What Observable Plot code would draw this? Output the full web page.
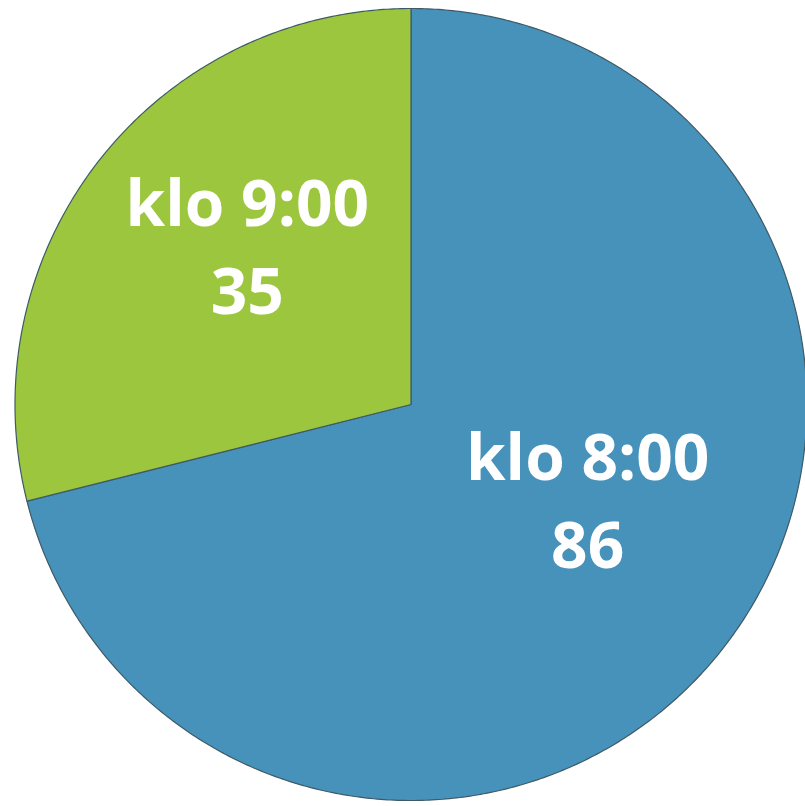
<!DOCTYPE html>
<html>
<head>
<meta charset="utf-8">
<script src="https://cdn.jsdelivr.net/npm/d3@7"></script>
<script src="https://cdn.jsdelivr.net/npm/@observablehq/plot@0.6"></script>
<style>
  html, body { margin: 0; padding: 0; background: #ffffff; }
  #chart svg { display: block; }
</style>
</head>
<body>
<div id="chart"></div>
<script>
// Data
const categories = ["klo 8:00", "klo 9:00"];
const values = [86, 35];
const colors = ["#4692bb", "#9dc63f"];

const W = 805, H = 806;
const cx = 410.5, cy = 404, R = 396;

// Pie layout (clockwise from top, in data order)
const pie = d3.pie().sort(null).value(d => d.value);
const arcs = pie(categories.map((c, i) => ({category: c, value: values[i], color: colors[i]})));

// Slice outlines as polygons in unit-circle coordinates (y up)
const slicePts = [];
arcs.forEach(a => {
  const cat = a.data.category;
  slicePts.push({cat, x: 0, y: 0});
  const steps = Math.max(2, Math.ceil((a.endAngle - a.startAngle) / (Math.PI / 360)));
  for (let k = 0; k <= steps; k++) {
    const t = a.startAngle + (a.endAngle - a.startAngle) * k / steps;
    slicePts.push({cat, x: Math.sin(t), y: Math.cos(t)});
  }
  slicePts.push({cat, x: 0, y: 0});
});

// Labels at slice centroids (with small best-fit nudges in pixels)
const labelR = 0.54;
const nudges = [[8, -40], [5, -31]];
const labels = arcs.map((a, i) => {
  const m = (a.startAngle + a.endAngle) / 2;
  return {x: labelR * Math.sin(m), y: labelR * Math.cos(m), text: a.data.category + "\n" + a.data.value, i};
});

const chart = Plot.plot({
  width: W,
  height: H,
  margin: 0,
  x: {domain: [-1, 1], range: [cx - R, cx + R], axis: null},
  y: {domain: [-1, 1], range: [cy + R, cy - R], axis: null},
  color: {domain: categories, range: colors},
  style: {background: "#ffffff"},
  marks: [
    Plot.line(slicePts, {x: "x", y: "y", z: "cat", fill: "cat", stroke: "#3e5a66", strokeWidth: 1.2, curve: "linear"}),
    ...labels.map(l => Plot.text([l], {
      x: "x", y: "y", text: "text",
      dx: nudges[l.i][0], dy: nudges[l.i][1],
      fill: "#ffffff",
      fontSize: 64,
      fontWeight: 700,
      fontFamily: "'Open Sans', Lato, sans-serif",
      lineHeight: 1.375,
      textAnchor: "middle"
    }))
  ]
});
document.getElementById("chart").appendChild(chart);
</script>
</body>
</html>
